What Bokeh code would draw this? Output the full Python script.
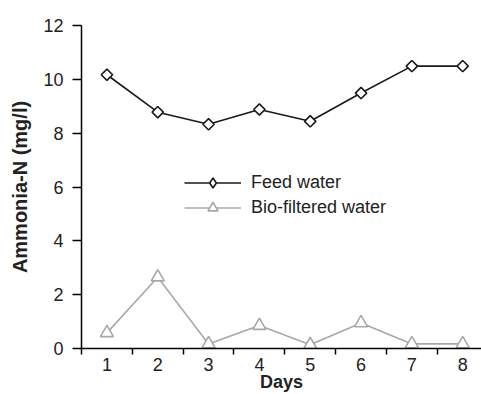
import math
from bokeh.plotting import figure
from bokeh.models import Range1d, FixedTicker, Legend, LegendItem
from bokeh.embed import file_html
from bokeh.resources import INLINE

days = [1, 2, 3, 4, 5, 6, 7, 8]
feed_water = [10.17, 8.78, 8.33, 8.88, 8.44, 9.49, 10.49, 10.49]
bio_filtered = [0.58, 2.65, 0.17, 0.85, 0.14, 0.95, 0.17, 0.17]
y_ticks = [0, 2, 4, 6, 8, 10, 12]

FONT = "Liberation Sans"
FEED_COLOR = "#1a1a1a"
BIO_COLOR = "#a8a8a8"

p = figure(width=481, height=394, output_backend="svg", toolbar_location=None,
           x_range=Range1d(0.5, 8.37), y_range=Range1d(0, 12),
           min_border_left=81, min_border_right=0, min_border_top=25, min_border_bottom=46)
p.outline_line_color = None
p.grid.grid_line_color = None
p.background_fill_color = "white"

# x axis
p.xaxis.ticker = FixedTicker(ticks=days, minor_ticks=[d - 0.5 for d in days] + [8.5])
p.xaxis.major_tick_out = 0
p.xaxis.major_tick_in = 0
p.xaxis.minor_tick_out = 6
p.xaxis.minor_tick_in = 0
p.xaxis.minor_tick_line_color = "black"
p.xaxis.minor_tick_line_width = 1.5
p.xaxis.major_label_standoff = 3
p.xaxis.axis_label = "Days"
p.xaxis.axis_label_standoff = -2
p.xaxis.axis_line_width = 1.5

# y axis
p.yaxis.ticker = FixedTicker(ticks=y_ticks, minor_ticks=[])
p.yaxis.major_tick_out = 9
p.yaxis.major_tick_in = 0
p.yaxis.major_tick_line_width = 1.5
p.yaxis.major_label_standoff = 9
p.yaxis.axis_label = "Ammonia-N (mg/l)"
p.yaxis.axis_label_standoff = 9
p.yaxis.axis_line_width = 1.5

for ax in (p.xaxis, p.yaxis):
    ax.major_label_text_font = FONT
    ax.major_label_text_font_size = "18px"
    ax.major_label_text_color = "#222222"
    ax.axis_label_text_font = FONT
    ax.axis_label_text_font_style = "bold"
    ax.axis_label_text_color = "#222222"
    ax.axis_line_color = "black"
    ax.major_tick_line_color = "black"
p.xaxis.axis_label_text_font_size = "18px"
p.yaxis.axis_label_text_font_size = "20px"

l1 = p.line(days, feed_water, line_color=FEED_COLOR, line_width=1.6)
# diamond used for the legend swatch (hidden beneath the rotated squares in the plot)
s1_leg = p.scatter(days, feed_water, marker="diamond", size=9,
                   fill_color="white", line_color=FEED_COLOR, line_width=1.6)
s1 = p.scatter(days, feed_water, marker="square", angle=math.pi / 4, size=8,
               fill_color="white", line_color=FEED_COLOR, line_width=1.6)
l2 = p.line(days, bio_filtered, line_color=BIO_COLOR, line_width=1.6)
s2 = p.scatter(days, bio_filtered, marker="triangle", size=13,
               fill_color="white", line_color=BIO_COLOR, line_width=1.6)

legend = Legend(items=[LegendItem(label="Feed water", renderers=[l1, s1_leg]),
                       LegendItem(label="Bio-filtered water", renderers=[l2, s2])],
                location=(103, 128), orientation="vertical",
                glyph_width=57, glyph_height=25, label_height=25, label_standoff=10,
                spacing=0, padding=0, margin=0,
                border_line_color=None, background_fill_alpha=0,
                label_text_font=FONT, label_text_font_size="18px",
                label_text_color="#222222")
p.add_layout(legend, "center")

open("out.html", "w").write(file_html(p, INLINE))
